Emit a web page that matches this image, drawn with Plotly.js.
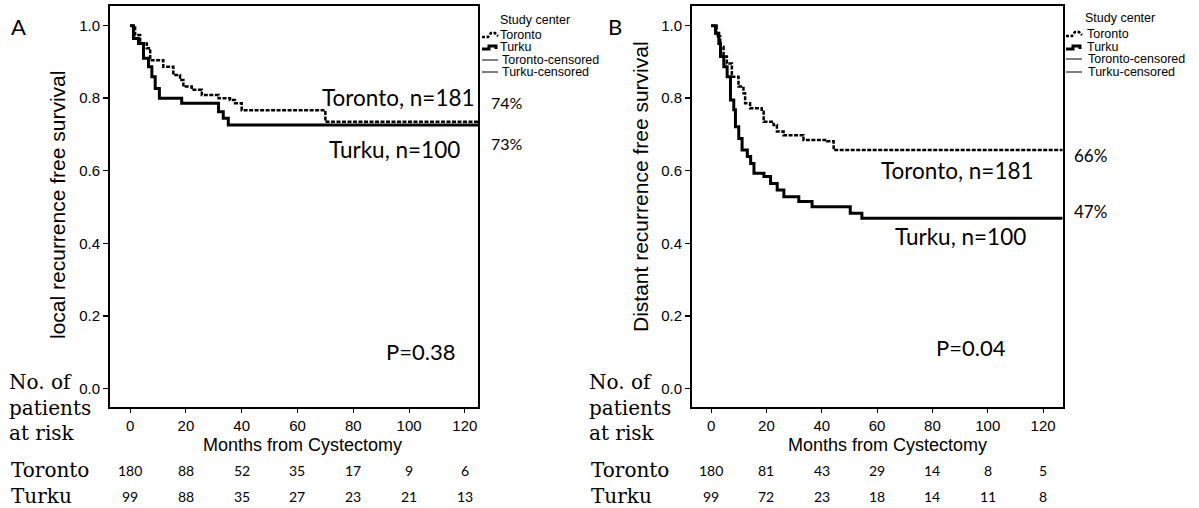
<!DOCTYPE html>
<html>
<head>
<meta charset="utf-8">
<script src="https://cdn.plot.ly/plotly-3.0.1.min.js"></script>
<style>html,body{margin:0;padding:0;background:#fff;}#chart{width:1199px;height:508px;}</style>
</head>
<body>
<div id="chart"></div>
<script>
// ---- Data ----
// Panel A: local recurrence free survival
const A_toronto_t = [0, 1.8, 3.6, 6.0, 7.2, 11.9, 15.5, 17.9, 19.1, 22.1, 25.7, 31.7, 35.8, 37.6, 40.0, 70.0, 125];
const A_toronto_s = [1.0, 0.974, 0.951, 0.938, 0.905, 0.887, 0.864, 0.850, 0.832, 0.823, 0.809, 0.800, 0.795, 0.786, 0.767, 0.735, 0.735];
const A_turku_t = [0, 1.2, 3.0, 4.8, 6.6, 7.8, 9.0, 10.5, 18.5, 31.7, 33.4, 35.2, 125];
const A_turku_s = [1.0, 0.965, 0.951, 0.910, 0.887, 0.859, 0.827, 0.800, 0.786, 0.763, 0.745, 0.726, 0.726];
// Panel B: distant recurrence free survival
const B_toronto_t = [0, 2.0, 3.3, 4.5, 5.7, 7.5, 9.9, 11.7, 12.3, 14.1, 18.3, 19.0, 22.6, 23.8, 26.2, 33.4, 41.9, 44.3, 127];
const B_toronto_s = [1.0, 0.970, 0.942, 0.915, 0.896, 0.859, 0.832, 0.814, 0.786, 0.772, 0.763, 0.735, 0.726, 0.708, 0.698, 0.685, 0.681, 0.657, 0.657];
const B_turku_t = [0, 1.6, 2.8, 3.4, 4.6, 5.8, 7.0, 8.2, 8.8, 10.0, 11.2, 13.1, 14.3, 15.5, 19.1, 21.5, 23.9, 26.3, 31.7, 36.5, 50.3, 54.5, 127];
const B_turku_s = [1.0, 0.979, 0.951, 0.915, 0.887, 0.859, 0.795, 0.768, 0.721, 0.689, 0.657, 0.639, 0.620, 0.593, 0.584, 0.565, 0.547, 0.528, 0.515, 0.501, 0.483, 0.469, 0.469];

const riskTimes = [0, 20, 40, 60, 80, 100, 120];
const A_risk_toronto = [180, 88, 52, 35, 17, 9, 6];
const A_risk_turku = [99, 88, 35, 27, 23, 21, 13];
const B_risk_toronto = [180, 81, 43, 29, 14, 8, 5];
const B_risk_turku = [99, 72, 23, 18, 14, 11, 8];

const yTicks = [0, 0.2, 0.4, 0.6, 0.8, 1.0];
const legendLabels = ["Toronto", "Turku", "Toronto-censored", "Turku-censored"];

// ---- Layout helpers ----
const W = 1199, H = 508;
const px = x => x / W;
const py = y => 1 - y / H;

const SANS = "Liberation Sans, Arial, sans-serif";
const HUM = "Lato, Open Sans, sans-serif";
const SERIF = "DejaVu Serif, serif";

const torontoLine = {shape: 'hv', color: 'black', width: 2.5, dash: '4px,1.5px'};
const turkuLine = {shape: 'hv', color: 'black', width: 3};

const traces = [
  {x: A_toronto_t, y: A_toronto_s, xaxis: 'x', yaxis: 'y', mode: 'lines', line: torontoLine, name: 'Toronto'},
  {x: A_turku_t, y: A_turku_s, xaxis: 'x', yaxis: 'y', mode: 'lines', line: turkuLine, name: 'Turku'},
  {x: B_toronto_t, y: B_toronto_s, xaxis: 'x2', yaxis: 'y2', mode: 'lines', line: torontoLine, name: 'Toronto'},
  {x: B_turku_t, y: B_turku_s, xaxis: 'x2', yaxis: 'y2', mode: 'lines', line: turkuLine, name: 'Turku'}
];

function xax(dom, range, anchor) {
  return {domain: dom, range: range, anchor: anchor, tickvals: riskTimes,
    showline: true, mirror: true, linecolor: 'black', linewidth: 2,
    ticks: 'outside', ticklen: 4, tickwidth: 1, tickcolor: 'black',
    tickfont: {family: SANS, size: 15, color: 'black'},
    showgrid: false, zeroline: false, fixedrange: true};
}
function yax(anchor) {
  return {domain: [py(407), py(6)], range: [-0.0516, 1.0543], anchor: anchor,
    tickvals: yTicks, tickformat: '.1f',
    showline: true, mirror: true, linecolor: 'black', linewidth: 2,
    ticks: 'outside', ticklen: 5, tickwidth: 1.5, tickcolor: 'black',
    tickfont: {family: SANS, size: 15, color: 'black'},
    showgrid: false, zeroline: false, fixedrange: true};
}

const ann = [];
function txt(text, x, y, opts) {
  opts = opts || {};
  ann.push(Object.assign({text: text, x: px(x), y: py(y), xref: 'paper', yref: 'paper',
    xanchor: opts.xanchor || 'center', yanchor: 'middle', showarrow: false, borderpad: 0,
    font: {family: opts.family || HUM, size: opts.size || 20, color: 'black'}},
    opts.textangle !== undefined ? {textangle: opts.textangle} : {}));
}

// Panel letters
txt('A', 18, 26, {size: 22});
txt('B', 614.5, 26, {size: 22});
// Y titles
txt('local recurrence free survival', 58, 205, {family: SANS, size: 21, textangle: -90});
txt('Distant recurrence free survival', 640, 187, {family: SANS, size: 21, textangle: -90});
// X titles
txt('Months from Cystectomy', 302, 445, {family: SANS, size: 18});
txt('Months from Cystectomy', 887, 445, {family: SANS, size: 18});
// In-plot labels A
txt('Toronto, n=181', 398.5, 97, {size: 22.5});
txt('Turku, n=100', 394.5, 150, {size: 22.5});
txt('74%', 506.5, 103, {size: 16, family: 'Liberation Sans Narrow, Lato, sans-serif'});
txt('73%', 506.5, 144, {size: 16, family: 'Liberation Sans Narrow, Lato, sans-serif'});
txt('P=0.38', 420.5, 351, {size: 22});
// In-plot labels B
txt('Toronto, n=181', 957.5, 170, {size: 22.5});
txt('Turku, n=100', 960, 236, {size: 22.5});
txt('66%', 1090, 155, {size: 17});
txt('47%', 1090, 212, {size: 17});
txt('P=0.04', 971, 347, {size: 22});

// Legends
function legend(yTitle, rowsY, textX) {
  txt('Study center', textX[0], yTitle, {family: SANS, size: 12.5, xanchor: 'left'});
  legendLabels.forEach((l, i) => txt(l, textX[i < 2 ? 1 : 2], rowsY[i], {family: SANS, size: 12.5, xanchor: 'left'}));
}
legend(20, [35, 47, 60, 72], [499, 499, 501]);
legend(18, [34, 47, 59, 72], [1084, 1086, 1087]);

// At-risk table
[[8, 10], [588, 590]].forEach(([xl, xr]) => {
  txt('No. of', xl, 382, {family: SERIF, size: 20, xanchor: 'left'});
  txt('patients', xl, 408, {family: SERIF, size: 20, xanchor: 'left'});
  txt('at risk', xl, 433, {family: SERIF, size: 20, xanchor: 'left'});
  txt('Toronto', xr, 470, {family: SERIF, size: 20, xanchor: 'left'});
  txt('Turku', xr, 496, {family: SERIF, size: 20, xanchor: 'left'});
});
function riskRow(vals, xref, y) {
  vals.forEach((v, i) => ann.push({text: String(v), x: riskTimes[i], xref: xref, y: py(y), yref: 'paper',
    xanchor: 'center', yanchor: 'middle', showarrow: false,
    font: {family: HUM, size: 14, color: 'black'}}));
}
riskRow(A_risk_toronto, 'x', 470);
riskRow(A_risk_turku, 'x', 496);
riskRow(B_risk_toronto, 'x2', 470);
riskRow(B_risk_turku, 'x2', 496);

// Legend icons (paper-space decorations)
function path(pts) { return 'M' + pts.map(p => px(p[0]) + ',' + py(p[1])).join(' L'); }
const shapes = [];
function icons(x0, yT, yK, yC1, yC2) {
  shapes.push({type: 'path', xref: 'paper', yref: 'paper', path: path([[x0, yT + 2], [x0 + 6, yT + 2], [x0 + 9, yT - 2], [x0 + 13, yT - 2], [x0 + 16, yT + 1]]), line: {color: 'black', width: 2.5, dash: '3px,1.5px'}});
  shapes.push({type: 'path', xref: 'paper', yref: 'paper', path: path([[x0, yK + 2], [x0 + 7, yK + 2], [x0 + 7, yK - 1], [x0 + 14, yK - 1], [x0 + 14, yK + 2]]), line: {color: 'black', width: 3}});
  shapes.push({type: 'line', xref: 'paper', yref: 'paper', x0: px(x0), x1: px(x0 + 16), y0: py(yC1), y1: py(yC1), line: {color: 'black', width: 1}});
  shapes.push({type: 'line', xref: 'paper', yref: 'paper', x0: px(x0), x1: px(x0 + 16), y0: py(yC2), y1: py(yC2), line: {color: 'black', width: 1}});
}
icons(482, 35, 47, 60, 72);
icons(1066, 34, 47, 59, 72);

const layout = {
  width: W, height: H, margin: {l: 0, r: 0, t: 0, b: 0},
  paper_bgcolor: 'white', plot_bgcolor: 'white', showlegend: false,
  xaxis: xax([px(110), px(478)], [-7.2, 124.7], 'y'),
  yaxis: yax('x'),
  xaxis2: xax([px(692), px(1063)], [-6.9, 127.2], 'y2'),
  yaxis2: yax('x2'),
  annotations: ann, shapes: shapes
};

Plotly.newPlot('chart', traces, layout, {staticPlot: true, displayModeBar: false});
</script>
</body>
</html>
